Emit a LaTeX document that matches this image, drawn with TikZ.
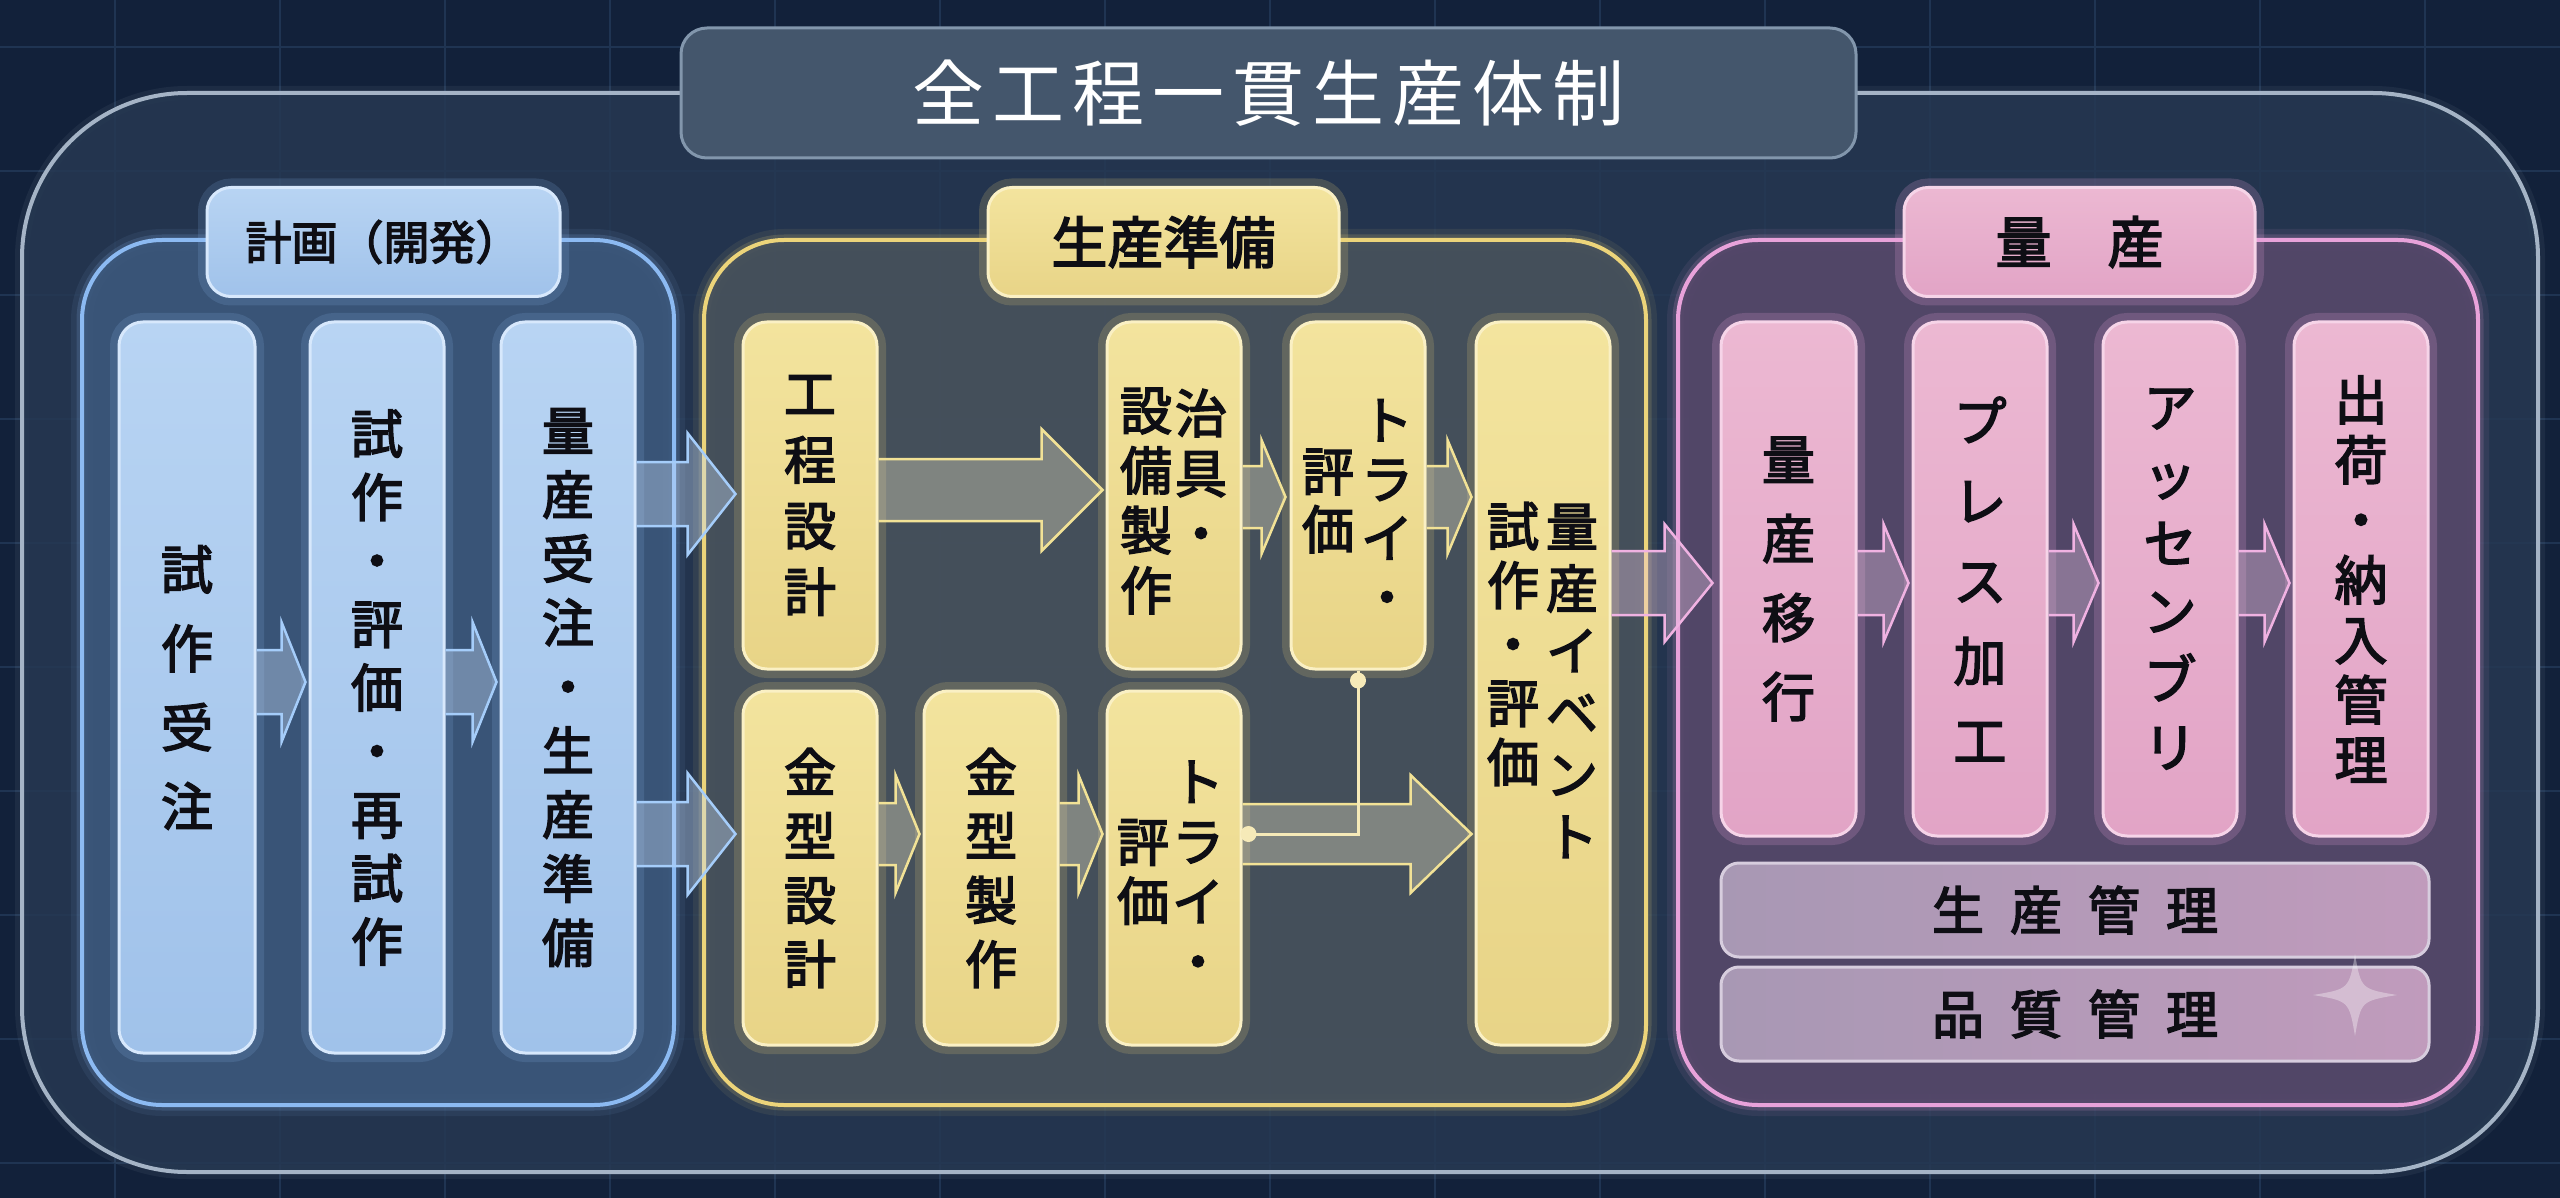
\documentclass[tikz,border=0pt]{standalone}
\usepackage{fontspec}
\setmainfont{Noto Sans CJK JP}[FakeBold=3]
\newfontfamily\titlefont{Noto Sans CJK JP}
\usetikzlibrary{calc}
\definecolor{bgc}{RGB}{18,33,58}
\definecolor{gridc}{RGB}{31,52,82}
\definecolor{outerfill}{RGB}{38,56,82}
\definecolor{outerbd}{RGB}{165,180,198}
\definecolor{titlefill}{RGB}{68,86,108}
\definecolor{titlebd}{RGB}{130,150,172}
\definecolor{bpanelc}{RGB}{60,88,124}
\definecolor{bbd}{RGB}{140,186,242}
\definecolor{btop}{RGB}{184,212,243}
\definecolor{bbot}{RGB}{160,194,234}
\definecolor{bedge}{RGB}{215,232,252}
\definecolor{ypanelc}{RGB}{72,82,92}
\definecolor{ybd}{RGB}{236,212,122}
\definecolor{ytop}{RGB}{243,228,158}
\definecolor{ybot}{RGB}{232,212,135}
\definecolor{yedge}{RGB}{250,240,196}
\definecolor{ppanelc}{RGB}{86,72,106}
\definecolor{pbd}{RGB}{232,162,218}
\definecolor{ptop}{RGB}{236,184,210}
\definecolor{pbot}{RGB}{226,164,198}
\definecolor{pedge}{RGB}{246,212,232}
\definecolor{gleft}{RGB}{168,152,180}
\definecolor{gright}{RGB}{192,155,188}
\definecolor{gedge}{RGB}{215,205,222}
\definecolor{ink}{RGB}{14,14,20}
\definecolor{barfill}{RGB}{200,222,250}
\definecolor{barline}{RGB}{165,205,250}
\definecolor{yarfill}{RGB}{232,226,196}
\definecolor{yarline}{RGB}{242,226,150}
\definecolor{parfill}{RGB}{236,200,228}
\definecolor{parline}{RGB}{240,178,226}
\definecolor{connc}{RGB}{246,234,184}
\newcommand\barrow[8]{%
  \fill[#1fill] let \p1=(#2.east), \p2=(#3.west), \p3=(#4) in
    (\x1,\y3+#6pt) -- (\x2-#5pt-#8pt,\y3+#6pt) -- (\x2-#5pt-#8pt,\y3+#7pt) -- (\x2-#5pt,\y3)
    -- (\x2-#5pt-#8pt,\y3-#7pt) -- (\x2-#5pt-#8pt,\y3-#6pt) -- (\x1,\y3-#6pt) -- cycle;
  \draw[#1line] let \p1=(#2.east), \p2=(#3.west), \p3=(#4) in
    (\x1,\y3+#6pt) -- (\x2-#5pt-#8pt,\y3+#6pt) -- (\x2-#5pt-#8pt,\y3+#7pt) -- (\x2-#5pt,\y3)
    -- (\x2-#5pt-#8pt,\y3-#7pt) -- (\x2-#5pt-#8pt,\y3-#6pt) -- (\x1,\y3-#6pt);
}
\begin{document}
\begin{tikzpicture}[x=1pt,y=-1pt,
  gridline/.style={draw=gridc, line width=2pt},
  outerpanel/.style={rounded corners=165pt, draw=outerbd, line width=4pt, fill=outerfill, fill opacity=.85,
     preaction={draw=outerbd, line width=14pt, draw opacity=.08}},
  titlebox/.style={rounded corners=26pt, draw=titlebd, line width=3pt, fill=titlefill, text=white,
     font=\titlefont\fontsize{72}{80}\selectfont},
  panelbase/.style={rounded corners=80pt, line width=4pt},
  bluepanel/.style={panelbase, draw=bbd, fill=bpanelc, fill opacity=.9,
     preaction={draw=bbd, line width=22pt, draw opacity=.08},
     preaction={draw=bbd, line width=11pt, draw opacity=.16}},
  yelpanel/.style={panelbase, draw=ybd, fill=ypanelc, fill opacity=.9,
     preaction={draw=ybd, line width=22pt, draw opacity=.08},
     preaction={draw=ybd, line width=11pt, draw opacity=.16}},
  pnkpanel/.style={panelbase, draw=pbd, fill=ppanelc, fill opacity=.9,
     preaction={draw=pbd, line width=22pt, draw opacity=.08},
     preaction={draw=pbd, line width=11pt, draw opacity=.16}},
  boxbase/.style={rounded corners=24pt, line width=3pt, inner sep=0pt, align=center, text=ink},
  bluebox/.style={boxbase, draw=bedge, top color=btop, bottom color=bbot,
     preaction={draw=bbd, line width=18pt, draw opacity=.16}},
  yelbox/.style={boxbase, draw=yedge, top color=ytop, bottom color=ybot,
     preaction={draw=ybd, line width=18pt, draw opacity=.18}},
  pnkbox/.style={boxbase, draw=pedge, top color=ptop, bottom color=pbot,
     preaction={draw=pbd, line width=18pt, draw opacity=.2}},
  greybar/.style={boxbase, rounded corners=18pt, draw=gedge, left color=gleft, right color=gright,
     minimum width=708pt, minimum height=94pt, font=\fontsize{52}{60}\selectfont},
  coltext/.style={align=center, text=ink, inner sep=0pt},
  blufill/.style={fill=barfill, fill opacity=.38},
  bluline/.style={draw=barline, line width=2.5pt},
  yelfill/.style={fill=yarfill, fill opacity=.36},
  yelline/.style={draw=yarline, line width=2.5pt},
  pnkfill/.style={fill=parfill, fill opacity=.36},
  pnkline/.style={draw=parline, line width=2.5pt},
  conn/.style={draw=connc, line width=3pt},
  conndot/.style={fill=connc}
]
\useasboundingbox (0,0) rectangle (2560,1198);
\fill[bgc] (0,0) rectangle (2560,1198);
\foreach \gx in {115,280,...,2560} \draw[gridline] (\gx,0) -- (\gx,1198);
\foreach \gy in {47,171,...,1198} \draw[gridline] (0,\gy) -- (2560,\gy);

% outer frame and title
\node[outerpanel, minimum width=2516pt, minimum height=1079pt] (outer) at (1280,632.5) {};
\node[titlebox, minimum width=1175pt, minimum height=130pt] (title) at (1268.5,93)
  {全\hspace{8pt}工\hspace{8pt}程\hspace{8pt}一\hspace{8pt}貫\hspace{8pt}生\hspace{8pt}産\hspace{8pt}体\hspace{8pt}制};

% panels
\node[bluepanel, minimum width=592pt, minimum height=865pt] (bpan) at (378,672.5) {};
\node[yelpanel, minimum width=942pt, minimum height=865pt] (ypan) at (1175,672.5) {};
\node[pnkpanel, minimum width=800pt, minimum height=865pt] (ppan) at (2078,672.5) {};

% panel labels
\node[bluebox, rounded corners=24pt, minimum width=353pt, minimum height=109pt, font=\fontsize{46}{52}\selectfont] (blab) at (383.5,242) {計画（開発）};
\node[yelbox, rounded corners=24pt, minimum width=351pt, minimum height=109pt, font=\fontsize{56}{62}\selectfont] (ylab) at (1163.5,242) {生産準備};
\node[pnkbox, rounded corners=24pt, minimum width=351pt, minimum height=109pt, font=\fontsize{56}{62}\selectfont] (plab) at (2079.5,242) {量　産};

% blue boxes
\node[bluebox, minimum width=136pt, minimum height=731pt, font=\fontsize{52}{79}\selectfont] (b1) at (187,687.5) {試\\作\\受\\注};
\node[bluebox, minimum width=134pt, minimum height=731pt, font=\fontsize{52}{63.5}\selectfont] (b2) at (377,687.5) {試\\作\\・\\評\\価\\・\\再\\試\\作};
\node[bluebox, minimum width=134pt, minimum height=731pt, font=\fontsize{52}{64}\selectfont] (b3) at (568,687.5) {量\\産\\受\\注\\・\\生\\産\\準\\備};

% yellow boxes
\node[yelbox, minimum width=134pt, minimum height=347pt, font=\fontsize{52}{66}\selectfont] (y1) at (810,495.5) {工\\程\\設\\計};
\node[yelbox, minimum width=134pt, minimum height=347pt] (y2) at (1174,495.5) {};
\node[coltext, font=\fontsize{52}{60}\selectfont] (y2r) at (1201,471) {治\\具\\・};
\node[coltext, font=\fontsize{52}{60}\selectfont] (y2l) at (1146,501) {設\\備\\製\\作};
\node[yelbox, minimum width=134pt, minimum height=347pt] (y3) at (1358,495.5) {};
\node[coltext, font=\fontsize{52}{59}\selectfont] (y3r) at (1387,508) {ト\\ラ\\イ\\・};
\node[coltext, font=\fontsize{52}{58}\selectfont] (y3l) at (1328,501) {評\\価};
\node[yelbox, minimum width=134pt, minimum height=723pt] (y4) at (1543,683.5) {};
\node[coltext, font=\fontsize{52}{62}\selectfont] (y4r) at (1572,681) {量\\産\\イ\\ベ\\ン\\ト};
\node[coltext, font=\fontsize{52}{59}\selectfont] (y4l) at (1513,644) {試\\作\\・\\評\\価};
\node[yelbox, minimum width=134pt, minimum height=354pt, font=\fontsize{52}{64}\selectfont] (y5) at (810,868) {金\\型\\設\\計};
\node[yelbox, minimum width=134pt, minimum height=354pt, font=\fontsize{52}{64}\selectfont] (y6) at (991,868) {金\\型\\製\\作};
\node[yelbox, minimum width=134pt, minimum height=354pt] (y7) at (1174,868) {};
\node[coltext, font=\fontsize{52}{60}\selectfont] (y7r) at (1198,871) {ト\\ラ\\イ\\・};
\node[coltext, font=\fontsize{52}{59}\selectfont] (y7l) at (1143,872) {評\\価};

% pink boxes
\node[pnkbox, minimum width=135pt, minimum height=514pt, font=\fontsize{53}{79}\selectfont] (p1) at (1788.5,579) {量\\産\\移\\行};
\node[pnkbox, minimum width=134pt, minimum height=514pt, font=\fontsize{53}{80}\selectfont] (p2) at (1980,579) {プ\\レ\\ス\\加\\工};
\node[pnkbox, minimum width=134pt, minimum height=514pt, font=\fontsize{53}{68}\selectfont] (p3) at (2170,579) {ア\\ッ\\セ\\ン\\ブ\\リ};
\node[pnkbox, minimum width=134pt, minimum height=514pt, font=\fontsize{53}{60}\selectfont] (p4) at (2361,579) {出\\荷\\・\\納\\入\\管\\理};

% management bars
\node[greybar] (g1) at (2075,910) {生\hspace{26pt}産\hspace{26pt}管\hspace{26pt}理};
\node[greybar] (g2) at (2075,1014) {品\hspace{26pt}質\hspace{26pt}管\hspace{26pt}理};

% sparkle
\fill[white, opacity=.35] (2355,954) .. controls (2361,989) .. (2397,995) .. controls (2361,1001) .. (2355,1036)
  .. controls (2349,1001) .. (2313,995) .. controls (2349,989) .. (2355,954) -- cycle;

% level coordinates
\coordinate (lvM) at (0,682);
\coordinate (lvA) at (0,494);
\coordinate (lvB) at (0,834);
\coordinate (lvY) at (0,490);
\coordinate (lvZ) at (0,497);
\coordinate (lvP) at (0,583);

% arrows
\barrow{blu}{b1}{b2}{lvM}{3}{32}{60}{24}
\barrow{blu}{b2}{b3}{lvM}{3}{32}{60}{24}
\barrow{blu}{b3}{y1}{lvA}{6}{32}{61}{48}
\barrow{blu}{b3}{y5}{lvB}{6}{32}{61}{48}
\barrow{yel}{y1}{y2}{lvY}{3}{31}{61}{61}
\barrow{yel}{y2}{y3}{lvZ}{4}{31}{57}{24}
\barrow{yel}{y3}{y4}{lvZ}{3}{31}{57}{24}
\barrow{yel}{y5}{y6}{lvB}{3}{31}{59}{24}
\barrow{yel}{y6}{y7}{lvB}{3}{31}{59}{24}
\barrow{yel}{y7}{y4}{lvB}{3}{30}{59}{61}
\barrow{pnk}{y4}{p1}{lvP}{7}{32}{59}{48}
\barrow{pnk}{p1}{p2}{lvP}{3}{32}{59}{25}
\barrow{pnk}{p2}{p3}{lvP}{3}{32}{59}{25}
\barrow{pnk}{p3}{p4}{lvP}{3}{32}{59}{25}

% connector from upper try to lower try
\coordinate (jt) at ($(y3.south)+(0,10)$);
\coordinate (jl) at ($(y7.east |- lvB)+(6,0)$);
\draw[conn] (y3.south) -- (jt) |- (jl);
\fill[conndot] (jt) circle (8pt);
\fill[conndot] (jl) circle (8pt);
\end{tikzpicture}
\end{document}
